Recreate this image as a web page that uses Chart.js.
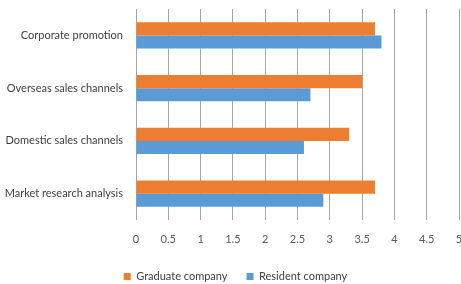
<!DOCTYPE html>
<html><head><meta charset="utf-8">
<script src="https://cdn.jsdelivr.net/npm/chart.js@4"></script>
<style>html,body{margin:0;padding:0;background:#fff}#wrap{width:461px;height:284px}</style>
</head><body><div id="wrap"><canvas id="c" width="461" height="284"></canvas></div>
<script>
const categories = ["Corporate promotion", "Overseas sales channels", "Domestic sales channels", "Market research analysis"];
const graduateCompany = [3.7, 3.5, 3.3, 3.7];
const residentCompany = [3.8, 2.7, 2.6, 2.9];
const xTicks = [0, 0.5, 1, 1.5, 2, 2.5, 3, 3.5, 4, 4.5, 5];

const font = {family: "Lato, 'Open Sans', sans-serif", size: 11};
const shiftLegend = {id: 'shiftLegend', afterLayout(chart) { if (chart.legend) chart.legend.left += 12; }};
new Chart(document.getElementById('c'), {
  type: 'bar',
  data: {
    labels: categories,
    datasets: [
      {label: 'Graduate company', data: graduateCompany, backgroundColor: '#ED7D31', categoryPercentage: 0.5, barPercentage: 1},
      {label: 'Resident company', data: residentCompany, backgroundColor: '#5B9BD5', categoryPercentage: 0.5, barPercentage: 1}
    ]
  },
  plugins: [shiftLegend],
  options: {
    indexAxis: 'y',
    responsive: false,
    animation: false,
    devicePixelRatio: 1,
    layout: {padding: {top: 9, right: 2, left: 0, bottom: -8}},
    plugins: {
      legend: {
        position: 'bottom',
        labels: {boxWidth: 7, boxHeight: 7, padding: 19, color: '#404040', font: font}
      },
      tooltip: {enabled: false}
    },
    scales: {
      x: {
        min: 0, max: 5,
        afterBuildTicks: (s) => { s.ticks = xTicks.map(v => ({value: v})); },
        grid: {color: '#A6A6A6', lineWidth: 1, drawTicks: true, tickLength: 11, tickColor: 'rgba(0,0,0,0)'},
        border: {display: false},
        ticks: {color: '#595959', font: font, padding: 2, maxRotation: 0, autoSkip: false,
                callback: (v) => String(v)},
        afterFit: (s) => { s.height = 32; s.paddingLeft = 0; s.paddingRight = 0; }
      },
      y: {
        grid: {color: 'rgba(0,0,0,0)', drawOnChartArea: false, drawTicks: true, tickLength: 11, tickColor: 'rgba(0,0,0,0)'},
        border: {display: false},
        ticks: {color: '#404040', font: font, padding: 2},
        afterFit: (s) => { s.width = 136; s.paddingTop = 0; s.paddingBottom = 0; }
      }
    }
  }
});
</script></body></html>
